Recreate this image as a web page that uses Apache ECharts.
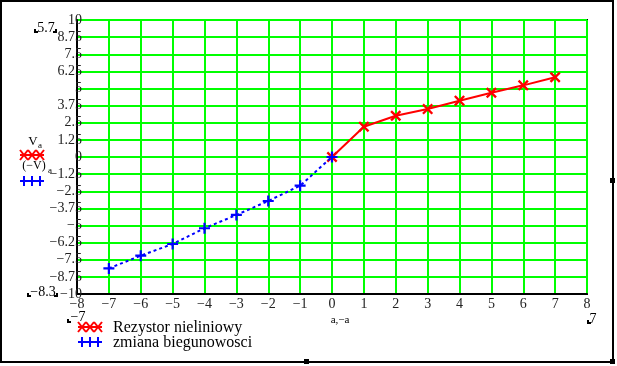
<!DOCTYPE html>
<html><head><meta charset="utf-8">
<script src="https://cdn.jsdelivr.net/npm/echarts@6/dist/echarts.min.js"></script>
<style>html,body{margin:0;padding:0;background:#fff}#c{width:617px;height:366px}</style>
</head><body><div id="c"></div>
<script>
var xRed = [0, 1, 2, 3, 4, 5, 6, 7];
var yRed = [0, 2.21, 3.01, 3.5, 4.11, 4.69, 5.23, 5.82];
var xBlue = [-7, -6, -5, -4, -3, -2, -1, 0];
var yBlue = [-8.13, -7.2, -6.35, -5.2, -4.23, -3.21, -2.09, 0];
var seriesNames = ['Rezystor nieliniowy', 'zmiana biegunowosci'];
var xTicks = [-8, -7, -6, -5, -4, -3, -2, -1, 0, 1, 2, 3, 4, 5, 6, 7, 8];
var yTicks = [-10, -8.75, -7.5, -6.25, -5, -3.75, -2.5, -1.25, 0, 1.25, 2.5, 3.75, 5, 6.25, 7.5, 8.75, 10];

var FONT = '"Liberation Serif", "DejaVu Serif", serif';
var X_SYM = 'path://M0,1.5L1.5,0L5,3.5L8.5,0L10,1.5L6.5,5L10,8.5L8.5,10L5,6.5L1.5,10L0,8.5L3.5,5Z';
var P_SYM = 'path://M4,0H6V4H10V6H6V10H4V6H0V4H4Z';

function pairs(xs, ys) { return xs.map(function (x, i) { return [x, ys[i]]; }); }

var chart = echarts.init(document.getElementById('c'), null, {renderer: 'canvas'});

function xIcons(x0, y0, color) {
  var els = [];
  els.push({type: 'line', shape: {x1: x0, y1: y0, x2: x0 + 24, y2: y0}, style: {stroke: color, lineWidth: 2}});
  for (var i = 0; i < 3; i++) {
    var cx = x0 + 4 + i * 8;
    els.push({type: 'line', shape: {x1: cx - 4, y1: y0 - 5, x2: cx + 4, y2: y0 + 5}, style: {stroke: color, lineWidth: 2}});
    els.push({type: 'line', shape: {x1: cx + 4, y1: y0 - 5, x2: cx - 4, y2: y0 + 5}, style: {stroke: color, lineWidth: 2}});
  }
  return els;
}
function pIcons(x0, y0, color) {
  var els = [];
  els.push({type: 'line', shape: {x1: x0, y1: y0, x2: x0 + 24, y2: y0}, style: {stroke: color, lineWidth: 2}});
  for (var i = 0; i < 3; i++) {
    var cx = x0 + 4 + i * 8;
    els.push({type: 'line', shape: {x1: cx, y1: y0 - 5, x2: cx, y2: y0 + 5}, style: {stroke: color, lineWidth: 2}});
  }
  return els;
}
function txt(x, y, s, size, align) {
  return {type: 'text', x: x, y: y, style: {text: s, font: size + 'px ' + FONT, fill: '#000', textAlign: align || 'left', textVerticalAlign: 'middle'}};
}
function bracket(x, y, dir) {
  return {type: 'polyline', shape: {points: dir === 'l' ? [[x, y - 3], [x, y], [x + 3, y]] : [[x - 3, y], [x, y], [x, y - 3]]}, style: {stroke: '#000', lineWidth: 2, fill: null}};
}

var graphics = [
  {type: 'rect', shape: {x: 1, y: 1, width: 612, height: 361}, style: {fill: null, stroke: '#000', lineWidth: 2}},
  {type: 'rect', shape: {x: 610, y: 178, width: 5, height: 5}, style: {fill: '#000'}},
  {type: 'rect', shape: {x: 610, y: 359, width: 5, height: 5}, style: {fill: '#000'}},
  {type: 'rect', shape: {x: 304, y: 359, width: 5, height: 5}, style: {fill: '#000'}},
  txt(46, 28, '5.7', 14, 'center'), bracket(35, 32, 'l'), bracket(56, 32, 'r'),
  txt(43, 292, '\u22128.3', 14, 'center'), bracket(28, 296, 'l'), bracket(57, 296, 'r'),
  txt(78, 317, '\u22127', 14, 'center'), bracket(68, 322, 'l'),
  txt(593, 319, '7', 14, 'center'), bracket(588, 323, 'l'),
  txt(340, 320, 'a,\u2212a', 11, 'center'),
  txt(33, 142, 'V', 13, 'center'), txt(38, 146, 'a', 9, 'left'),
  txt(34, 166, '(\u2212V)', 12, 'center'), txt(48, 171, 'a', 9, 'left'),
  txt(113, 328, seriesNames[0], 16, 'left'),
  txt(113, 343, seriesNames[1], 16, 'left')
];
graphics = graphics.concat(xIcons(20, 155, '#ff0000'), pIcons(20, 181, '#0000ff'),
  xIcons(78, 327, '#ff0000'), pIcons(78, 342, '#0000ff'));

function fmt(v) { return v < 0 ? '\u2212' + (-v) : String(v); }

chart.setOption({
  animation: false,
  backgroundColor: '#fff',
  grid: {left: 77, right: 30, top: 20, bottom: 72, show: true, borderColor: '#000', borderWidth: 2, backgroundColor: 'transparent'},
  xAxis: {
    type: 'value', min: xTicks[0], max: xTicks[xTicks.length - 1], interval: 1,
    axisLine: {show: true, onZero: false, lineStyle: {color: '#000', width: 2}},
    axisTick: {show: false},
    splitLine: {show: true, lineStyle: {color: '#00ff00', width: 2}},
    axisLabel: {margin: 3, fontFamily: FONT, fontSize: 14, color: '#222', formatter: fmt}
  },
  yAxis: {
    type: 'value', min: yTicks[0], max: yTicks[yTicks.length - 1], interval: 1.25,
    axisLine: {show: true, onZero: false, lineStyle: {color: '#000', width: 2}},
    axisTick: {show: false},
    splitLine: {show: true, lineStyle: {color: '#00ff00', width: 2}},
    axisLabel: {margin: -5, fontFamily: FONT, fontSize: 14, color: '#222', formatter: fmt}
  },
  graphic: graphics,
  series: [
    {name: seriesNames[0], type: 'line', data: pairs(xRed, yRed), symbol: X_SYM, symbolSize: 11,
      lineStyle: {color: '#ff0000', width: 2}, itemStyle: {color: '#ff0000'}, z: 3},
    {name: seriesNames[1], type: 'line', data: pairs(xBlue, yBlue), symbol: P_SYM, symbolSize: 11,
      lineStyle: {color: '#0000ff', width: 2, type: [3, 3]}, itemStyle: {color: '#0000ff'}, z: 4}
  ]
});
</script></body></html>
